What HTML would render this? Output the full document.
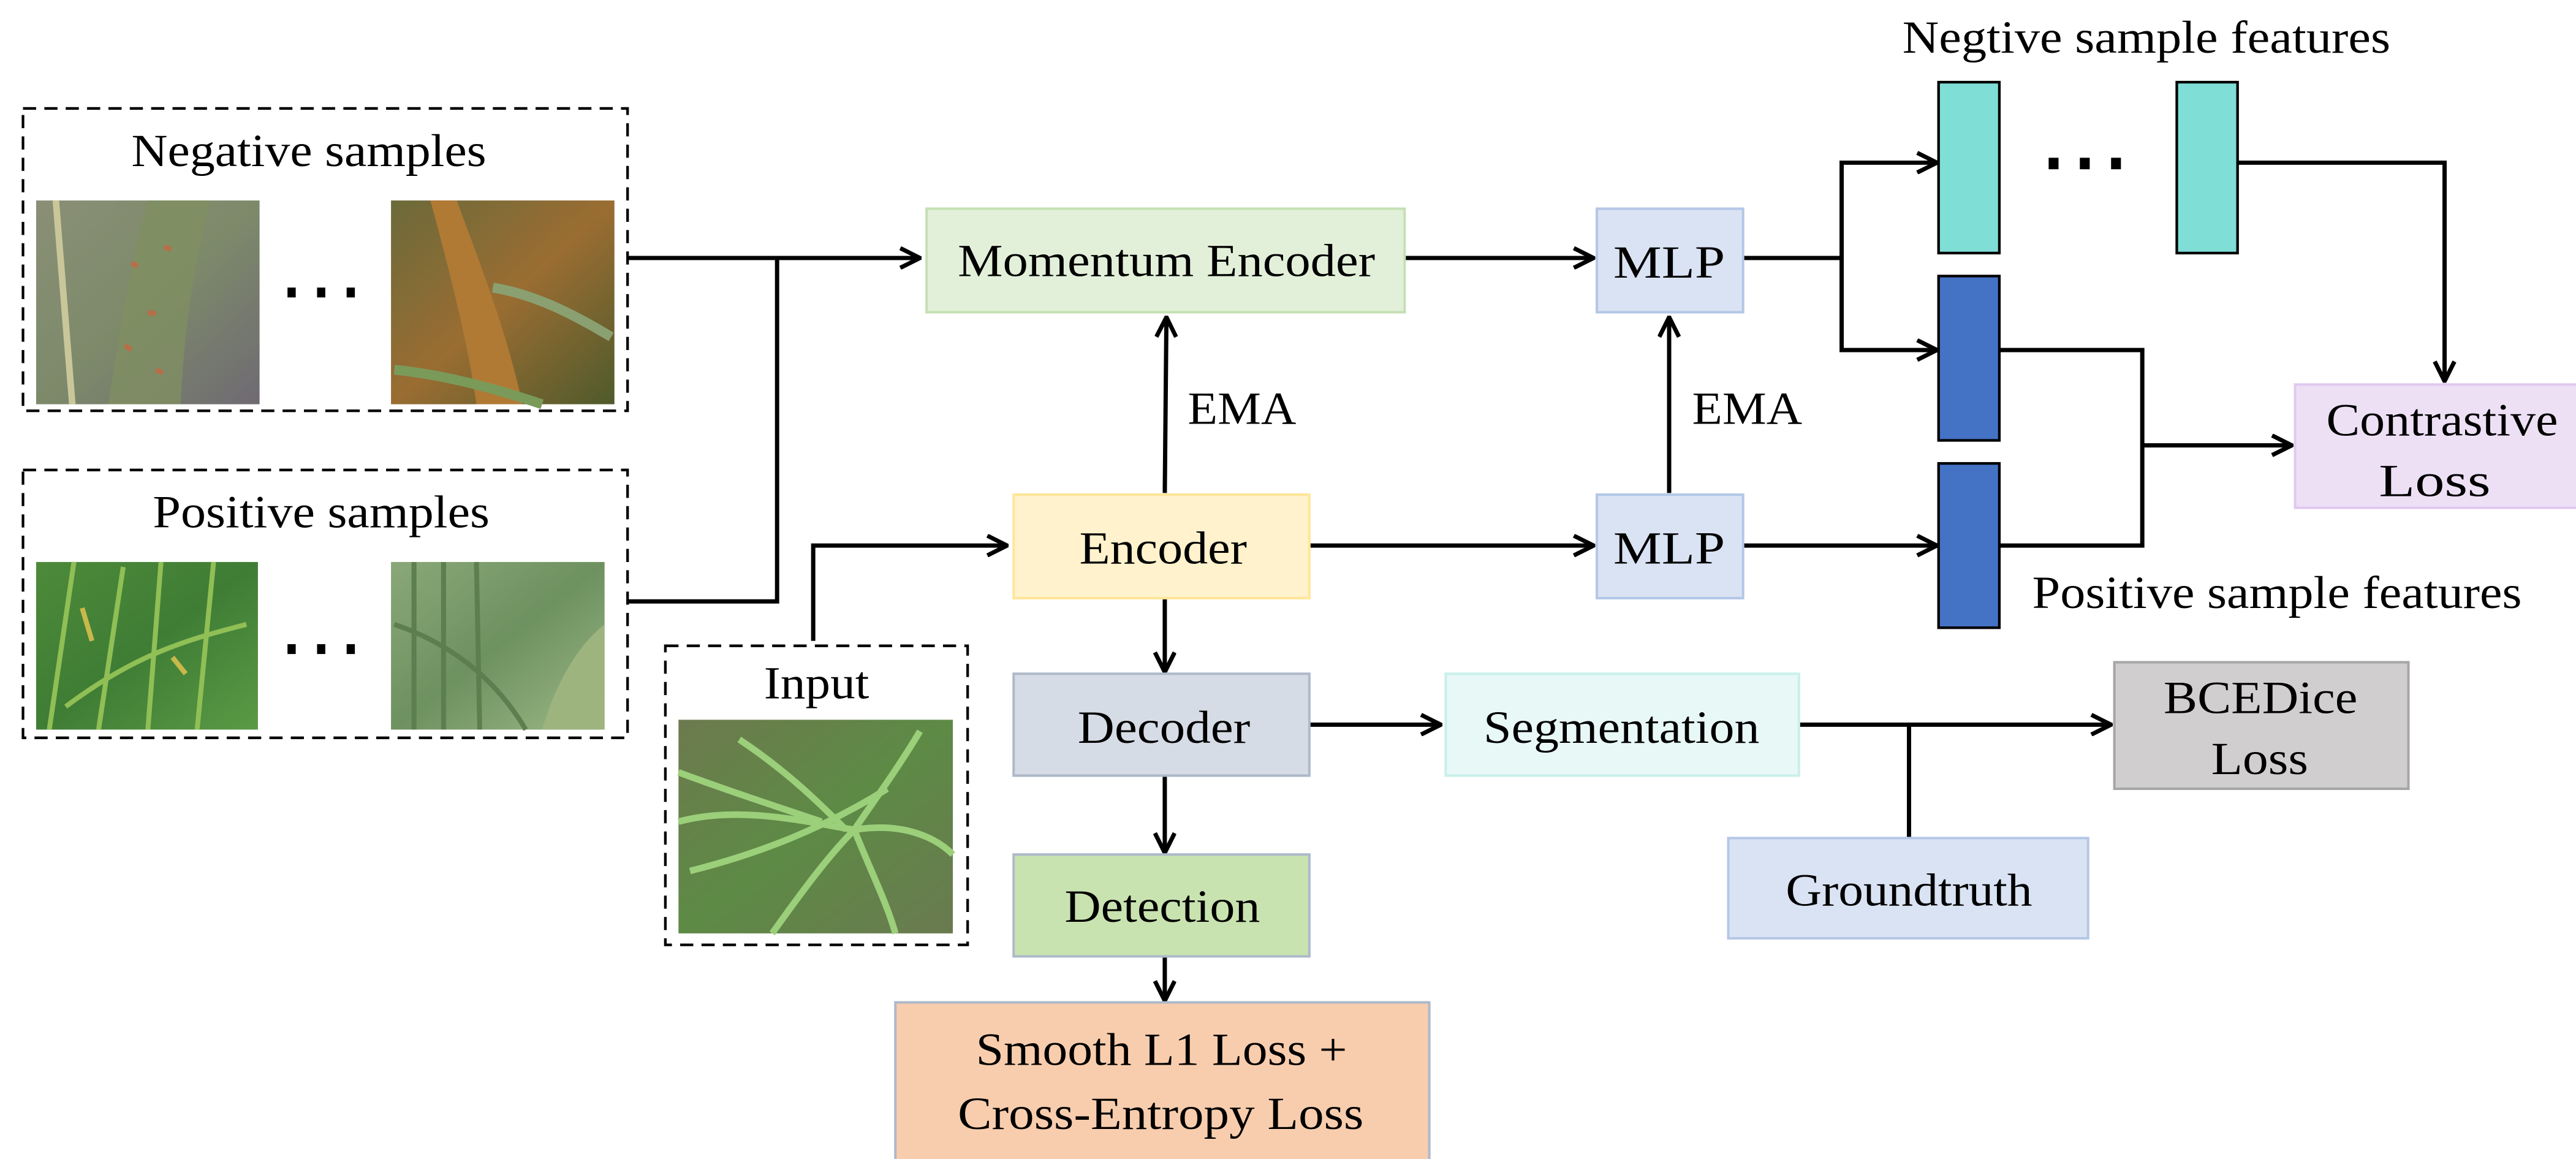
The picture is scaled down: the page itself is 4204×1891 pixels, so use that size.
<!DOCTYPE html>
<html><head><meta charset="utf-8"><style>
html,body{margin:0;padding:0;background:#fff;}
svg{display:block;}
text{font-family:"Liberation Serif","Times New Roman",serif;fill:#000;}
</style></head><body>
<svg width="4204" height="1891" viewBox="0 0 1568 705.3" xmlns="http://www.w3.org/2000/svg">
<defs>
<marker id="a" viewBox="0 0 14 14" refX="13" refY="7" markerWidth="14" markerHeight="14" markerUnits="userSpaceOnUse" orient="auto">
<polyline points="1,1 13,7 1,13" fill="none" stroke="#000" stroke-width="2.6"/>
</marker>
<linearGradient id="n1" x1="0" y1="0" x2="1" y2="1"><stop offset="0" stop-color="#8a8f76"/><stop offset="0.5" stop-color="#7d8a6a"/><stop offset="1" stop-color="#6f6a73"/></linearGradient>
<linearGradient id="n2" x1="0" y1="0" x2="1" y2="1"><stop offset="0" stop-color="#6b6a3a"/><stop offset="0.5" stop-color="#9a6d32"/><stop offset="1" stop-color="#4f5a2c"/></linearGradient>
<linearGradient id="p1" x1="0" y1="0" x2="1" y2="1"><stop offset="0" stop-color="#4d8a3a"/><stop offset="0.5" stop-color="#3f7d35"/><stop offset="1" stop-color="#5a9a45"/></linearGradient>
<linearGradient id="p2" x1="0" y1="0" x2="1" y2="1"><stop offset="0" stop-color="#8aa878"/><stop offset="0.5" stop-color="#6e9160"/><stop offset="1" stop-color="#9bb986"/></linearGradient>
<linearGradient id="in" x1="0" y1="0" x2="1" y2="1"><stop offset="0" stop-color="#6d7a4e"/><stop offset="0.5" stop-color="#5d8a45"/><stop offset="1" stop-color="#6a7a50"/></linearGradient>
</defs>

<g font-size="28">
<!-- Negative samples -->
<rect x="14" y="66" width="368" height="184" fill="none" stroke="#000" stroke-width="1.6" stroke-dasharray="8,5"/>
<text x="80" y="101" textLength="216" lengthAdjust="spacingAndGlyphs">Negative samples</text>
<rect x="22" y="122" width="136" height="124" fill="url(#n1)"/>
<path d="M34,122 L44,246" stroke="#c9c79a" stroke-width="4"/>
<path d="M90,122 C75,180 70,220 66,246 L110,246 C112,200 118,160 128,122 Z" fill="#7f8f62" opacity="0.8"/>
<path d="M80,160 l4,2 M90,190 l5,1 M76,210 l4,3 M100,150 l4,2 M95,225 l4,2" stroke="#b86e48" stroke-width="3"/>
<rect x="238" y="122" width="136" height="124" fill="url(#n2)"/>
<path d="M262,122 C275,170 285,210 290,246 L318,246 C308,200 292,160 278,122 Z" fill="#b07a34"/>
<path d="M300,175 C330,180 355,195 372,205" stroke="#8aa070" stroke-width="6" fill="none"/>
<path d="M240,225 C270,228 300,236 330,246" stroke="#7a9a5a" stroke-width="6" fill="none"/>
<rect x="175" y="175" width="5" height="6"/><rect x="193" y="175" width="5" height="6"/><rect x="211" y="175" width="5" height="6"/>

<!-- Positive samples -->
<rect x="14" y="286" width="368" height="163" fill="none" stroke="#000" stroke-width="1.6" stroke-dasharray="8,5"/>
<text x="93" y="321" textLength="205" lengthAdjust="spacingAndGlyphs">Positive samples</text>
<rect x="22" y="342" width="135" height="102" fill="url(#p1)"/>
<path d="M30,444 L45,342 M60,444 L75,345 M90,444 L98,342 M120,444 L130,342 M40,430 C80,400 110,390 150,380" stroke="#8fbf55" stroke-width="3" fill="none"/>
<path d="M50,370 l6,20 M105,400 l8,10" stroke="#c9b84a" stroke-width="3"/>
<rect x="238" y="342" width="130" height="102" fill="url(#p2)"/>
<path d="M252,342 L252,444 M270,342 L270,444 M290,342 L292,444 M240,380 C270,390 300,410 320,444" stroke="#5d7e4f" stroke-width="3" fill="none"/>
<path d="M330,444 C340,410 355,390 368,380 L368,444 Z" fill="#9db47f"/>
<rect x="175" y="392" width="5" height="6"/><rect x="193" y="392" width="5" height="6"/><rect x="211" y="392" width="5" height="6"/>

<!-- Input -->
<rect x="405" y="393" width="184" height="182" fill="none" stroke="#000" stroke-width="1.6" stroke-dasharray="8,5"/>
<text x="465" y="425" textLength="64" lengthAdjust="spacingAndGlyphs">Input</text>
<rect x="413" y="438" width="167" height="130" fill="url(#in)"/>
<path d="M413,500 C450,490 490,500 520,505 M420,530 C460,520 500,505 540,480 M450,450 C480,470 500,490 515,505 M560,445 C545,470 530,490 520,505 M520,505 C530,530 540,550 545,568 M470,568 C490,540 505,520 520,505 M413,470 C440,480 470,490 500,500 M520,505 C550,500 570,510 580,520" stroke="#9bcf7a" stroke-width="4" fill="none"/>

<!-- connectors -->
<g stroke="#000" stroke-width="2.6" fill="none">
<path d="M382,157 H560" marker-end="url(#a)"/>
<path d="M382,366 H473 V157"/>
<path d="M495,390 V332 H613" marker-end="url(#a)"/>
<path d="M709,300 L710,193" marker-end="url(#a)"/>
<path d="M709,364 V409" marker-end="url(#a)"/>
<path d="M709,472 V519" marker-end="url(#a)"/>
<path d="M709,582 V609" marker-end="url(#a)"/>
<path d="M797,441 H877" marker-end="url(#a)"/>
<path d="M1095,441 H1285" marker-end="url(#a)"/>
<path d="M1162,441 V510"/>
<path d="M855,157 H970" marker-end="url(#a)"/>
<path d="M797,332 H970" marker-end="url(#a)"/>
<path d="M1016,300 V193" marker-end="url(#a)"/>
<path d="M1061,157 H1121 V213 H1179" marker-end="url(#a)"/>
<path d="M1121,157 V99 H1179" marker-end="url(#a)"/>
<path d="M1061,332 H1179" marker-end="url(#a)"/>
<path d="M1217,213 H1304 V332 H1217"/>
<path d="M1304,271 H1395" marker-end="url(#a)"/>
<path d="M1362,99 H1488 V232" marker-end="url(#a)"/>
</g>

<!-- boxes -->
<rect x="564" y="127" width="291" height="63" fill="#e2f0d9" stroke="#c5e0b4" stroke-width="1.5"/>
<text x="583" y="168" textLength="254" lengthAdjust="spacingAndGlyphs">Momentum Encoder</text>
<text x="723" y="258" textLength="66" lengthAdjust="spacingAndGlyphs">EMA</text>
<rect x="617" y="301" width="180" height="63" fill="#fff2cc" stroke="#ffe699" stroke-width="1.5"/>
<text x="657" y="343" textLength="102" lengthAdjust="spacingAndGlyphs">Encoder</text>
<rect x="617" y="410" width="180" height="62" fill="#d6dce5" stroke="#adb9ca" stroke-width="1.5"/>
<text x="656" y="452" textLength="105" lengthAdjust="spacingAndGlyphs">Decoder</text>
<rect x="617" y="520" width="180" height="62" fill="#c9e3b0" stroke="#adb9ca" stroke-width="1.5"/>
<text x="648" y="561" textLength="119" lengthAdjust="spacingAndGlyphs">Detection</text>
<rect x="545" y="610" width="325" height="100" fill="#f8cdad" stroke="#adb9ca" stroke-width="1.5"/>
<text x="594" y="648" textLength="226" lengthAdjust="spacingAndGlyphs">Smooth L1 Loss +</text>
<text x="583" y="687" textLength="247" lengthAdjust="spacingAndGlyphs">Cross-Entropy Loss</text>
<rect x="880" y="410" width="215" height="62" fill="#e8f8f6" stroke="#c9f0ea" stroke-width="1.5"/>
<text x="903" y="452" textLength="168" lengthAdjust="spacingAndGlyphs">Segmentation</text>
<rect x="1287" y="403" width="179" height="77" fill="#d0cece" stroke="#a6a6a6" stroke-width="1.5"/>
<text x="1317" y="434" textLength="118" lengthAdjust="spacingAndGlyphs">BCEDice</text>
<text x="1346" y="471" textLength="59" lengthAdjust="spacingAndGlyphs">Loss</text>
<rect x="1052" y="510" width="219" height="61" fill="#dae3f3" stroke="#b4c7e7" stroke-width="1.5"/>
<text x="1087" y="551" textLength="150" lengthAdjust="spacingAndGlyphs">Groundtruth</text>
<rect x="972" y="127" width="89" height="63" fill="#dae3f3" stroke="#b4c7e7" stroke-width="1.5"/>
<text x="982" y="169" textLength="68" lengthAdjust="spacingAndGlyphs">MLP</text>
<rect x="972" y="301" width="89" height="63" fill="#dae3f3" stroke="#b4c7e7" stroke-width="1.5"/>
<text x="982" y="343" textLength="68" lengthAdjust="spacingAndGlyphs">MLP</text>
<text x="1030" y="258" textLength="67" lengthAdjust="spacingAndGlyphs">EMA</text>

<rect x="1180" y="50" width="37" height="104" fill="#7fded6" stroke="#000" stroke-width="1.6"/>
<rect x="1325" y="50" width="37" height="104" fill="#7fded6" stroke="#000" stroke-width="1.6"/>
<rect x="1247" y="96" width="6" height="7"/><rect x="1266" y="96" width="6" height="7"/><rect x="1285" y="96" width="6" height="7"/>
<rect x="1180" y="168" width="37" height="100" fill="#4472c4" stroke="#000" stroke-width="1.6"/>
<rect x="1180" y="282" width="37" height="100" fill="#4472c4" stroke="#000" stroke-width="1.6"/>
<text x="1158" y="32" textLength="297" lengthAdjust="spacingAndGlyphs">Negtive sample features</text>
<text x="1237" y="370" textLength="298" lengthAdjust="spacingAndGlyphs">Positive sample features</text>
<rect x="1397" y="234" width="175" height="75" fill="#ede0f5" stroke="#e0c8f0" stroke-width="1.5"/>
<text x="1416" y="265" textLength="141" lengthAdjust="spacingAndGlyphs">Contrastive</text>
<text x="1448" y="302" textLength="68" lengthAdjust="spacingAndGlyphs">Loss</text>
</g>
</svg>
</body></html>
